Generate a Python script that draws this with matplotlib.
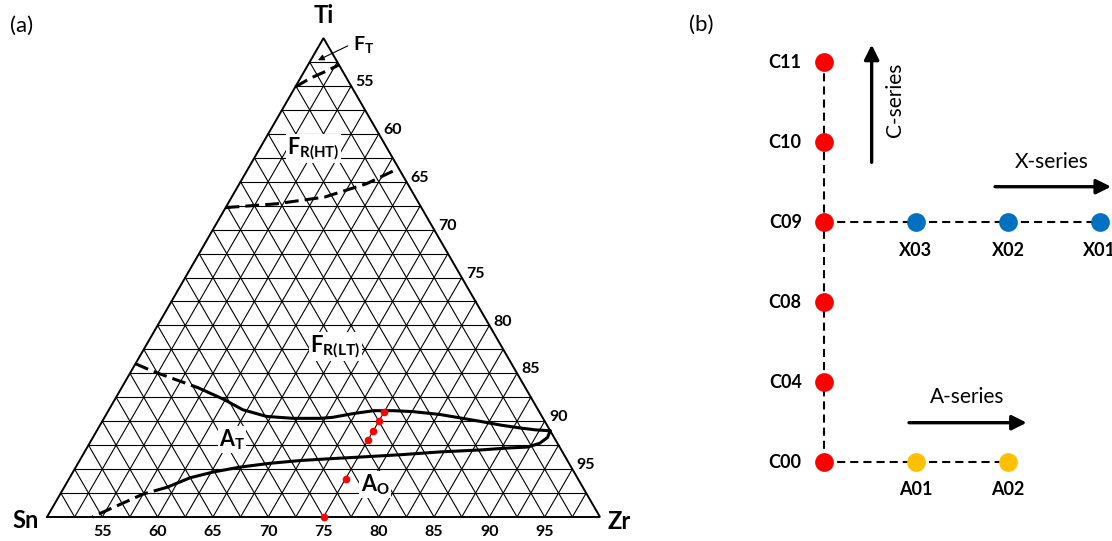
import numpy as np
import matplotlib.pyplot as plt

plt.rcParams['font.family'] = ['Lato', 'DejaVu Sans']
plt.rcParams['mathtext.fontset'] = 'custom'
plt.rcParams['mathtext.rm'] = 'Lato'
plt.rcParams['mathtext.bf'] = 'Lato:bold'
plt.rcParams['mathtext.default'] = 'bf'

# ---- (a) Zr-rich corner of the Zr-Ti-Sn system, at.% (Sn = 100 - Zr - Ti)
zr_ticks = [55, 60, 65, 70, 75, 80, 85, 90, 95]

alloy_zr = [75, 75, 75, 75, 75, 75]
alloy_ti = [0, 4, 8, 9, 10, 11]

ft_zr = [50, 50.9, 51.9, 52.8]
ft_ti = [44.9, 45.8, 46.5, 47.2]

ht_zr = [50, 54.4, 58.4, 61.5, 63.6]
ht_ti = [32.3, 32.7, 33.4, 34.8, 36.4]

# FR(LT) / AT boundary (first part dashed)
lt_zr = [50, 52.0, 56.9, 59.8, 62.1, 64.6, 67.1, 69.5, 70.6, 72.3, 74.0, 75.8,
         77.6, 80.2, 84.1, 86.2, 88.1, 89.6, 91.0]
lt_ti = [16.0, 15.2, 13.5, 12.3, 11.2, 10.5, 10.3, 10.3, 10.4, 10.8, 11.1, 11.1,
         11.0, 10.7, 10.0, 9.6, 9.3, 9.1, 9.0]

# AT / AO boundary, starting at the junction (last part dashed)
ao_zr = [91.0, 91.1, 90.7, 89.8, 88.0, 85.7, 82.2, 78.7, 75.8, 72.8, 70.0, 67.3,
         64.8, 62.7, 60.9, 59.3, 57.5, 55.5, 54.1]
ao_ti = [9.0, 8.3, 7.7, 7.3, 7.2, 7.0, 6.8, 6.5, 6.3, 6.1, 5.9, 5.6,
         5.2, 4.7, 4.1, 3.1, 2.4, 1.0, 0.0]

# ---- (b) alloy series
c_names = ['C00', 'C04', 'C08', 'C09', 'C10', 'C11']
x_names = ['X03', 'X02', 'X01']
a_names = ['A01', 'A02']

RED = '#FF0000'
BLUE = '#0070C0'
GOLD = '#FFC000'


def tern(zr, ti):
    zr = np.asarray(zr, float)
    ti = np.asarray(ti, float)
    a_ti = ti / 50.0
    a_zr = (zr - 50.0) / 50.0
    return a_zr + a_ti / 2.0, a_ti * np.sqrt(3) / 2.0


fig = plt.figure(figsize=(11.12, 5.41), dpi=100, facecolor='w')

# ------------------------------------------------------------------ (a)
ax = fig.add_axes([0, 0, 650 / 1112, 1])
ax.set_xlim(-47 / 553, 603 / 553)
ax.set_ylim(-24 / 553, 517 / 553)
ax.axis('off')

for k in range(1, 20):
    f = k / 20.0
    # constant Ti
    x, y = tern([50, 100 - 50 * f], [50 * f, 50 * f])
    ax.plot(x, y, color='k', lw=0.8)
    # constant Zr
    x, y = tern([50 + 50 * f, 50 + 50 * f], [0, 50 - 50 * f])
    ax.plot(x, y, color='k', lw=0.8)
    # constant Sn
    x, y = tern([100 - 50 * f, 50], [0, 50 - 50 * f])
    ax.plot(x, y, color='k', lw=0.8)

x, y = tern([50, 100, 50, 50], [0, 0, 50, 0])
ax.plot(x, y, color='k', lw=1.4, solid_joinstyle='miter')

dash = (0, (4.5, 2.0))
x, y = tern(ft_zr, ft_ti)
ax.plot(x, y, color='k', lw=2.2, ls=dash)
x, y = tern(ht_zr, ht_ti)
ax.plot(x, y, color='k', lw=2.2, ls=dash)
x, y = tern(lt_zr, lt_ti)
ax.plot(x[:3], y[:3], color='k', lw=2.2, ls=dash)
ax.plot(x[2:], y[2:], color='k', lw=2.2, solid_capstyle='round')
x, y = tern(ao_zr, ao_ti)
ax.plot(x[:16], y[:16], color='k', lw=2.2, solid_capstyle='round')
ax.plot(x[15:], y[15:], color='k', lw=2.2, ls=dash)

x, y = tern(alloy_zr, alloy_ti)
ax.plot(x, y, 'o', color=RED, ms=5.5, mec='none', zorder=5)

for v in zr_ticks:
    x, y = tern(v, 0)
    ax.text(x, y - 0.027, str(v), ha='center', va='center', fontsize=11.5,
            fontweight='bold')
    x, y = tern(v, 100 - v)
    ax.text(x + 0.008, y + 0.007, str(v), ha='left', va='center', fontsize=11.5,
            fontweight='bold')

x, y = tern(50, 50)
ax.text(x, y + 0.04, 'Ti', ha='center', va='center', fontsize=17, fontweight='bold')
x, y = tern(50, 0)
ax.text(x - 0.039, y - 0.007, 'Sn', ha='center', va='center', fontsize=17,
        fontweight='bold')
x, y = tern(100, 0)
ax.text(x + 0.034, y - 0.008, 'Zr', ha='center', va='center', fontsize=17,
        fontweight='bold')

box = dict(fc='white', ec='none', pad=1.0)
ax.text(0.553, 0.8445, r'$F_T$', fontsize=14, ha='left', va='baseline')
ax.annotate('', xy=(0.490, 0.826), xytext=(0.544, 0.852),
            arrowprops=dict(arrowstyle='-|>', lw=0.8, color='k',
                            mutation_scale=9, shrinkA=0, shrinkB=0))
ax.text(0.434, 0.657, r'$F_{R(HT)}$', fontsize=15.5, ha='left', va='baseline', bbox=box)
ax.text(0.476, 0.299, r'$F_{R(LT)}$', fontsize=16, ha='left', va='baseline', bbox=box)
ax.text(0.311, 0.128, r'$A_T$', fontsize=15.5, ha='left', va='baseline', bbox=box)
ax.text(0.567, 0.046, r'$A_O$', fontsize=15.5, ha='left', va='baseline', bbox=box)

# ------------------------------------------------------------------ (b)
bx = fig.add_axes([680 / 1112, 0, 432 / 1112, 1])
bx.set_xlim(-144 / 92, 288 / 92)
bx.set_ylim(-78.7 / 80, 462.3 / 80)
bx.axis('off')

c_y = np.arange(len(c_names))
row_x = c_names.index('C09')
x_x = np.arange(1, len(x_names) + 1)
a_x = np.arange(1, len(a_names) + 1)

bdash = (0, (3.9, 2.4))
bx.plot([0, 0], [c_y[0], c_y[-1]], color='k', lw=1.5, ls=bdash, zorder=1)
bx.plot([0, x_x[-1]], [row_x, row_x], color='k', lw=1.5, ls=bdash, zorder=1)
bx.plot([0, a_x[-1]], [0, 0], color='k', lw=1.5, ls=bdash, zorder=1)

bx.plot(np.zeros(len(c_y)), c_y, 'o', color=RED, ms=13.5, mec='none', zorder=3)
bx.plot(x_x, np.full(len(x_x), row_x), 'o', color=BLUE, ms=13.5, mec='none', zorder=3)
bx.plot(a_x, np.zeros(len(a_x)), 'o', color=GOLD, ms=13.5, mec='none', zorder=3)

for yy, name in zip(c_y, c_names):
    bx.text(-0.242, yy, name, ha='right', va='center', fontsize=13, fontweight='bold')
for xx, name in zip(x_x, x_names):
    bx.text(xx, row_x - 0.355, name, ha='center', va='center', fontsize=13,
            fontweight='bold')
for xx, name in zip(a_x, a_names):
    bx.text(xx, -0.3375, name, ha='center', va='center', fontsize=13,
            fontweight='bold')

arr = dict(arrowstyle='-|>', lw=2.4, color='k', mutation_scale=22,
           shrinkA=0, shrinkB=0)
bx.annotate('', xy=(0.518, 5.22), xytext=(0.518, 3.75), arrowprops=arr,
            annotation_clip=False)
bx.text(0.772, 4.53, 'C-series', rotation=90, ha='center', va='center', fontsize=15)
bx.annotate('', xy=(3.12, 3.445), xytext=(1.859, 3.445), arrowprops=arr,
            annotation_clip=False)
bx.text(2.475, 3.75, 'X-series', ha='center', va='center', fontsize=15)
bx.annotate('', xy=(2.203, 0.495), xytext=(0.924, 0.495), arrowprops=arr,
            annotation_clip=False)
bx.text(1.558, 0.82, 'A-series', ha='center', va='center', fontsize=15)

fig.text(22 / 1112, 1 - 26 / 541, '(a)', ha='center', va='center', fontsize=16)
fig.text(701 / 1112, 1 - 25 / 541, '(b)', ha='center', va='center', fontsize=16)

fig.savefig('out.png', dpi=100)
